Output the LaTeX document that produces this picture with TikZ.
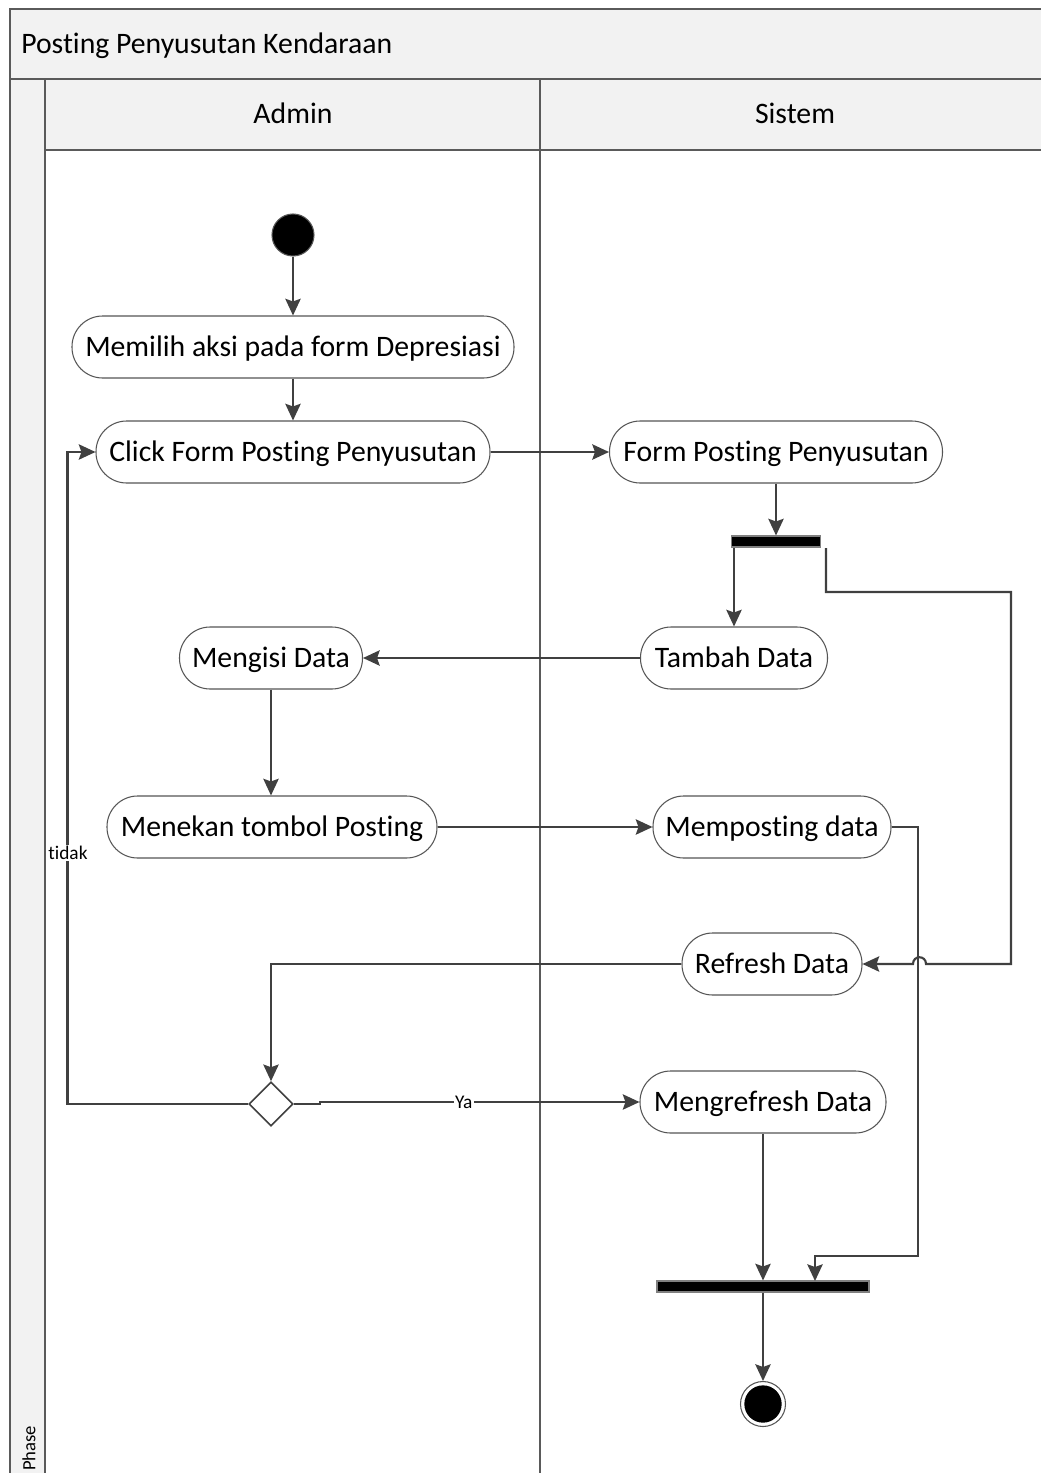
\documentclass[tikz,border=0pt]{standalone}
\usepackage{fontspec}
\setmainfont{Carlito}[RawFeature={-liga}]
\usetikzlibrary{shapes.geometric,arrows.meta,calc}
\definecolor{lc}{HTML}{404040}
\definecolor{bc}{HTML}{555555}
\definecolor{fc}{HTML}{5A5A5A}
\definecolor{hdr}{HTML}{F2F2F2}
\begin{document}
\begin{tikzpicture}[x=0.75pt,y=-0.75pt,
 line/.style={draw=lc, line width=1.6pt},
 arr/.style={line, -{Stealth[length=12.5pt,width=11.5pt,inset=2pt]}},
 act/.style={draw=bc, line width=0.8pt, rounded corners=23pt, minimum height=46.5pt, inner sep=0pt, font=\fontsize{22.3}{26}\selectfont, fill=white, text height=16.8pt, text depth=2.4pt},
 bar/.style={draw=gray, fill=black, line width=0.8pt, minimum height=8.25pt, inner sep=0pt},
 lbl/.style={font=\fontsize{14.5}{16}\selectfont, fill=white, inner sep=1pt},
 hd/.style={font=\fontsize{22.3}{26}\selectfont, inner sep=0pt, text height=16.8pt, text depth=2.4pt},
 frm/.style={draw=fc, line width=1.2pt}
]
\useasboundingbox (0,0) rectangle (1041,1473);
\clip (0,0) rectangle (1041,1473);
% frame
\fill[white] (0,0) rectangle (1041,1473);
\fill[hdr] (10,9) rectangle (1060,150);
\fill[hdr] (10,79) rectangle (45,1480);
\draw[frm] (1060,9) -- (10,9) -- (10,1480);
\draw[frm] (10,79) -- (1060,79);
\draw[frm] (45,79) -- (45,1480);
\draw[frm] (45,150) -- (1060,150);
\draw[frm] (540,79) -- (540,1480);
\node[hd, anchor=west] (title) at (21,44) {Posting Penyusutan Kendaraan};
\node[hd] (admin) at (293,114) {Admin};
\node[hd] (sistem) at (795,114) {Sistem};
\node[font=\fontsize{14}{16}\selectfont, inner sep=0pt, rotate=90, anchor=west] (phase) at (29,1471) {Phase};
% nodes
\node[circle, fill=black, draw=bc, line width=0.8pt, minimum size=31.5pt, inner sep=0pt] (start) at (293,235) {};
\node[act, minimum width=331.5pt] (memilih) at (293,347) {Memilih aksi pada form Depresiasi};
\node[act, minimum width=295.5pt] (click) at (293,452) {Click Form Posting Penyusutan};
\node[act, minimum width=249.75pt] (form) at (776,452) {Form Posting Penyusutan};
\node[bar, minimum width=66.75pt] (fork) at (776,541.5) {};
\node[act, minimum width=140.25pt] (tambah) at (734,658) {Tambah Data};
\node[act, minimum width=137.25pt] (mengisi) at (271,658) {Mengisi Data};
\node[act, minimum width=247.5pt] (menekan) at (272,827) {Menekan tombol Posting};
\node[act, minimum width=178.5pt] (memposting) at (772,827) {Memposting data};
\node[act, minimum width=135pt] (refresh) at (772,964) {Refresh Data};
\node[diamond, draw=lc, line width=1.2pt, fill=white, minimum width=33pt, minimum height=33pt, inner sep=0pt] (dec) at (271,1104) {};
\node[act, minimum width=184.5pt] (mengrefresh) at (763,1102) {Mengrefresh Data};
\node[bar, minimum width=159pt] (join) at (763,1286.5) {};
\node[circle, draw=bc, line width=0.8pt, fill=white, minimum size=33.75pt, inner sep=0pt] (end) at (763,1404) {};
\node[circle, fill=black, minimum size=28pt, inner sep=0pt] (endin) at (763,1404) {};
\coordinate (fkr) at (826,548);
\coordinate (jin) at (815,1281);
% connectors
\draw[arr] (start) -- (memilih);
\draw[arr] (memilih) -- (click);
\draw[arr] (click) -- (form);
\draw[arr] (form) -- (fork);
\draw[arr] (fork.south -| tambah.north) -- (tambah.north);
\draw[arr] (fkr) -- (826,592) -- (1011,592) -- (1011,964) -- (926,964) .. controls (926,955) and (913,955) .. (913,964) -- (refresh.east);
\draw[arr] (tambah) -- (mengisi);
\draw[arr] (mengisi.south) -- (mengisi.south |- menekan.north);
\draw[arr] (menekan) -- (memposting);
\draw[arr] (memposting.east) -- (918,827) -- (918,1256) -- (815,1256) -- (jin);
\draw[arr] (refresh.west) -| (dec.north);
\draw[arr] (dec.west) -| ($(click.west)+(-28,0)$) -- (click.west);
\node[lbl] (tidak) at (68,853) {tidak};
\draw[arr] (dec.east) -- (320,1104) -- (320,1102) -- node[lbl, pos=0.45] (ya) {Ya} (mengrefresh.west);
\draw[arr] (mengrefresh) -- (join);
\draw[arr] (join) -- (end);
\end{tikzpicture}
\end{document}
